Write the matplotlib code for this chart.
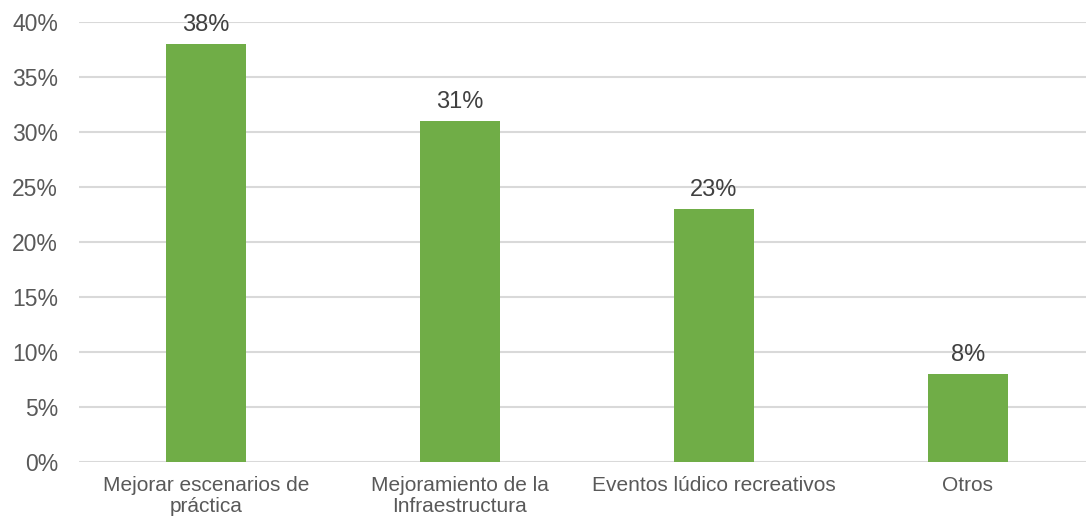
import matplotlib
matplotlib.use("Agg")
import matplotlib.pyplot as plt
from matplotlib.ticker import FuncFormatter

categories = ["Mejorar escenarios de\npráctica", "Mejoramiento de la\nInfraestructura",
              "Eventos lúdico recreativos", "Otros"]
values = [38, 31, 23, 8]
yticks = [0, 5, 10, 15, 20, 25, 30, 35, 40]

plt.rcParams['font.family'] = ['Liberation Sans', 'DejaVu Sans']
text_color = '#595959'

fig = plt.figure(figsize=(10.86, 5.16), dpi=100)
ax = fig.add_axes([79/1086, 54/516, 1 - 79/1086, (462-22)/516])

x = list(range(len(categories)))
bars = ax.bar(x, values, width=0.315, color='#70AD47', zorder=3)
for xi, v in zip(x, values):
    ax.annotate(f"{v}%", (xi, v), xytext=(0, 6), textcoords='offset points',
                ha='center', va='bottom', fontsize=17, color='#404040')

ax.set_xlim(-0.5, 3.465)
ax.set_ylim(0, 40)
ax.set_yticks(yticks)
ax.yaxis.set_major_formatter(FuncFormatter(lambda v, p: f"{int(v)}%"))
ax.set_xticks(x)
ax.set_xticklabels(categories, fontsize=15, color=text_color, linespacing=1.15)
ax.tick_params(axis='y', labelsize=16.5, labelcolor=text_color, length=0, pad=15)
ax.tick_params(axis='x', length=0, pad=10)
for lbl in ax.get_yticklabels():
    lbl.set_horizontalalignment('right')
ax.grid(axis='y', color='#D9D9D9', linewidth=1.5, zorder=0)
for s in ['top', 'right', 'left', 'bottom']:
    ax.spines[s].set_visible(False)

fig.savefig("out.png", dpi=100)
